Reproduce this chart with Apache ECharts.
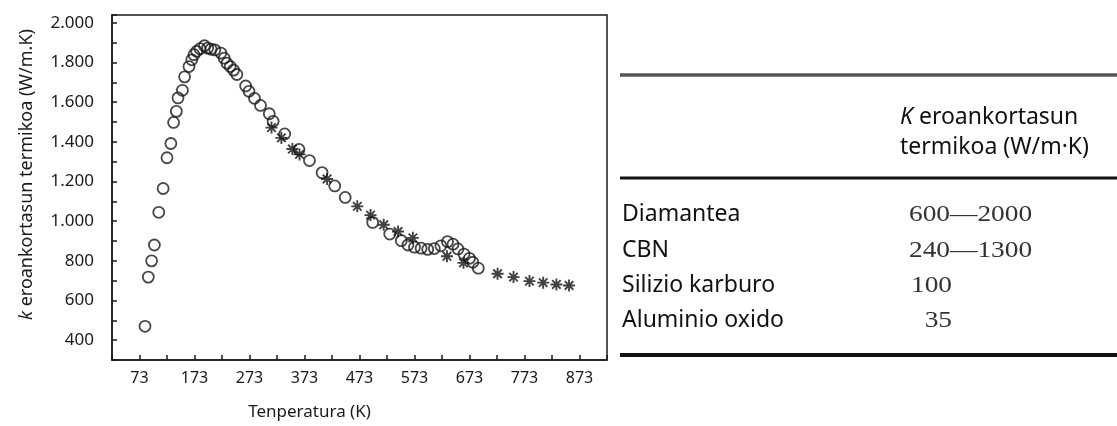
<!DOCTYPE html>
<html>
<head>
<meta charset="utf-8">
<script src="https://cdn.jsdelivr.net/npm/echarts@6/dist/echarts.min.js"></script>
<style>
  html, body { margin: 0; padding: 0; background: #fff; }
  #chart { width: 1117px; height: 426px; }
</style>
</head>
<body>
<div id="chart"></div>
<script>
// open circles (temperature K, conductivity W/m.K)
const circleTemp = [83, 89, 95, 100, 108, 116, 123, 130, 135, 140, 143, 151, 155, 163, 168, 172, 177, 183, 191, 197, 203, 210, 221, 227, 232, 238, 244, 250, 266, 272, 282, 293, 309, 316, 337, 363, 382, 405, 428, 447, 497, 528, 549, 561, 573, 585, 597, 609, 621, 633, 643, 652, 663, 673, 679, 689];
const circleK = [470, 718, 800, 880, 1045, 1165, 1320, 1392, 1498, 1554, 1622, 1660, 1728, 1780, 1814, 1840, 1857, 1870, 1885, 1873, 1868, 1864, 1848, 1822, 1797, 1780, 1762, 1740, 1682, 1655, 1620, 1584, 1542, 1504, 1440, 1362, 1306, 1245, 1178, 1120, 994, 935, 902, 880, 869, 864, 858, 862, 876, 897, 884, 860, 834, 813, 793, 763];

// asterisks
const starTemp = [313, 331, 351, 364, 414, 469, 493, 517, 543, 570, 632, 662, 724, 753, 782, 807, 831, 854];
const starK = [1472, 1420, 1364, 1337, 1213, 1075, 1031, 982, 948, 916, 823, 790, 735, 718, 698, 690, 681, 676];

// table on the right
const materials = ['Diamantea', 'CBN', 'Silizio karburo', 'Aluminio oxido'];
const kRanges = ['600\u20142000', '240\u20141300', '100', '35'];

const chart = echarts.init(document.getElementById('chart'));

const sans = '"Noto Sans", "Open Sans", sans-serif';
const serif = '"Liberation Serif", "DejaVu Serif", serif';
const ink = '#1a1a1a';

// bold 8-ray asterisk with a dark centre
const starPath = 'path://M1 8.6L19 8.6L19 11.4L1 11.4Z M8.6 1L11.4 1L11.4 19L8.6 19Z ' +
  'M2.6 4.6L4.6 2.6L17.4 15.4L15.4 17.4Z M15.4 2.6L17.4 4.6L4.6 17.4L2.6 15.4Z ' +
  'M6.5 6.5L13.5 6.5L13.5 13.5L6.5 13.5Z';

function fmtK(v) {
  if (v % 200 !== 0 || v < 400) return '';
  if (v >= 1000) return Math.floor(v / 1000) + '.' + String(v % 1000).padStart(3, '0');
  return String(v);
}

// table graphics
const rowY = [214, 250, 285, 320];
const graphics = [
  { type: 'line', shape: { x1: 620, y1: 75, x2: 1117, y2: 75 }, style: { stroke: '#555', lineWidth: 3.5 } },
  { type: 'line', shape: { x1: 620, y1: 178, x2: 1117, y2: 178 }, style: { stroke: '#111', lineWidth: 3 } },
  { type: 'line', shape: { x1: 620, y1: 355, x2: 1117, y2: 355 }, style: { stroke: '#111', lineWidth: 4 } },
  {
    type: 'text', x: 900, y: 117,
    style: {
      text: '{i|K} eroankortasun', fontSize: 23, fontFamily: sans, fill: '#111',
      verticalAlign: 'middle', textVerticalAlign: 'middle',
      rich: { i: { fontStyle: 'italic', fontSize: 23, fontFamily: sans, fill: '#111' } }
    }
  },
  {
    type: 'text', x: 900, y: 147,
    style: { text: 'termikoa (W/m\u00b7K)', fontSize: 23, fontFamily: sans, fill: '#111', verticalAlign: 'middle', textVerticalAlign: 'middle' }
  }
];
materials.forEach((m, i) => {
  graphics.push({
    type: 'text', x: 622, y: rowY[i],
    style: { text: m, fontSize: 23, fontFamily: sans, fill: '#111', verticalAlign: 'middle', textVerticalAlign: 'middle' }
  });
});
kRanges.forEach((v, i) => {
  const short = v.length <= 3;
  graphics.push({
    type: 'text', x: short ? 952 : 909, y: rowY[i] + 1,
    scaleX: 1.19, originX: 0, originY: 0,
    style: {
      text: v, fontSize: 23, fontFamily: serif, fill: '#333',
      align: short ? 'right' : 'left', textAlign: short ? 'right' : 'left',
      verticalAlign: 'middle', textVerticalAlign: 'middle'
    }
  });
});

const option = {
  animation: false,
  backgroundColor: '#fff',
  grid: {
    left: 112, right: 510, top: 15, bottom: 63,
    show: true, borderColor: ink, borderWidth: 1.5, backgroundColor: 'transparent'
  },
  xAxis: {
    type: 'value',
    min: 23, max: 923, interval: 50,
    axisLine: { show: true, lineStyle: { color: ink, width: 1.5 } },
    axisTick: { show: true, inside: true, length: 5, lineStyle: { color: ink, width: 1.5 } },
    splitLine: { show: false },
    axisLabel: {
      formatter: v => ((v - 73) % 100 === 0 ? String(v) : ''),
      fontSize: 16, color: ink, fontFamily: sans, margin: 10
    },
    name: 'Tenperatura (K)',
    nameLocation: 'middle',
    nameGap: 44,
    nameTextStyle: { fontSize: 17, color: ink, fontFamily: sans, padding: [0, 100, 0, 0] }
  },
  yAxis: {
    type: 'value',
    min: 300, max: 2040, interval: 100,
    axisLine: { show: true, lineStyle: { color: ink, width: 1.5 } },
    axisTick: { show: true, inside: true, length: 5, lineStyle: { color: ink, width: 1.5 } },
    splitLine: { show: false },
    axisLabel: { formatter: fmtK, fontSize: 17, color: ink, fontFamily: sans, margin: 18 },
    name: '{i|k} eroankortasun termikoa (W/m.K)',
    nameLocation: 'middle',
    nameGap: 76,
    nameTextStyle: {
      fontSize: 18, color: ink, fontFamily: sans, padding: [0, 0, 0, 26],
      rich: { i: { fontStyle: 'italic', fontSize: 18, color: ink, fontFamily: sans } }
    }
  },
  series: [
    {
      name: 'circles',
      type: 'scatter',
      data: circleTemp.map((t, i) => [t, circleK[i]]),
      symbol: 'circle',
      symbolSize: 11,
      itemStyle: { color: 'rgba(0,0,0,0)', borderColor: ink, borderWidth: 1.8 },
      emphasis: { disabled: true },
      z: 2
    },
    {
      name: 'stars',
      type: 'scatter',
      data: starTemp.map((t, i) => [t, starK[i]]),
      symbol: starPath,
      symbolSize: 12,
      itemStyle: { color: '#111' },
      emphasis: { disabled: true },
      z: 3
    }
  ],
  graphic: graphics
};

chart.setOption(option);
</script>
</body>
</html>
